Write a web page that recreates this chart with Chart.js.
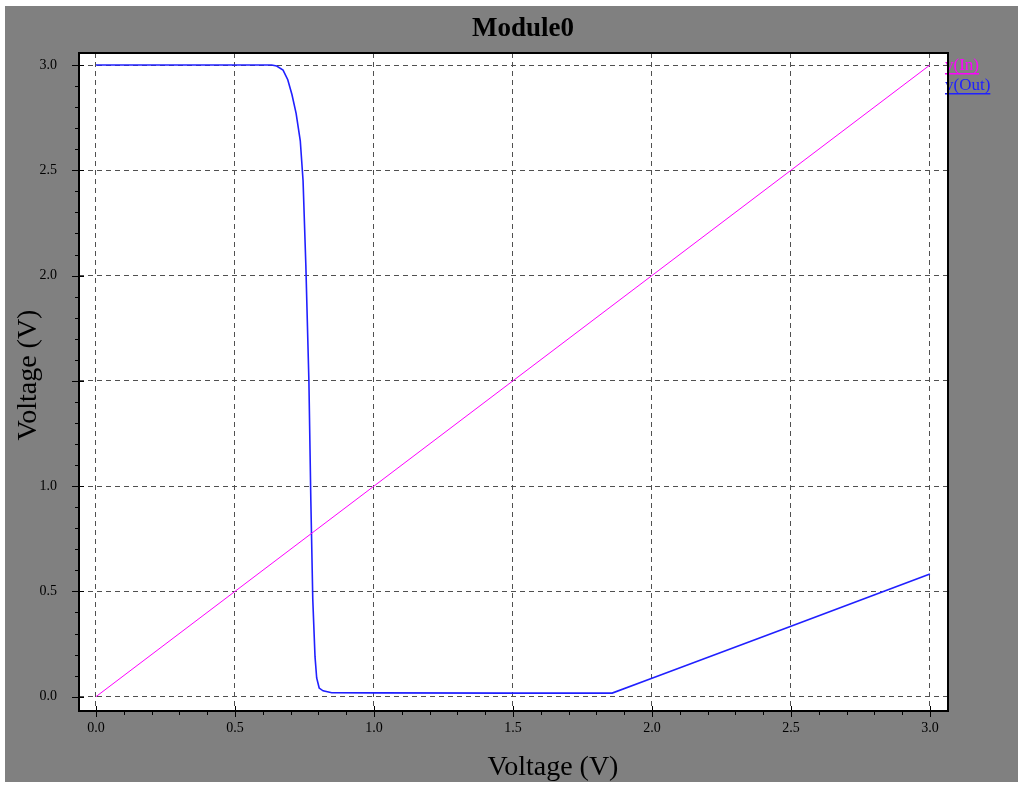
<!DOCTYPE html>
<html>
<head>
<meta charset="utf-8">
<script src="https://cdn.jsdelivr.net/npm/chart.js@4/dist/chart.umd.min.js"></script>
<style>
html,body{margin:0;padding:0;background:#fff;}
canvas{display:block;}
</style>
</head>
<body>
<canvas id="c" width="1021" height="785"></canvas>
<script>
// ---- data ----
const chartTitle = "Module0";
const xAxisTitle = "Voltage (V)";
const yAxisTitle = "Voltage (V)";
const xTickValues = [0.0, 0.5, 1.0, 1.5, 2.0, 2.5, 3.0];
const yTickValues = [0.0, 0.5, 1.0, 1.5, 2.0, 2.5, 3.0];
const xTickLabels = ["0.0", "0.5", "1.0", "1.5", "2.0", "2.5", "3.0"];
const yTickLabels = ["0.0", "0.5", "1.0", "1.5", "2.0", "2.5", "3.0"];
const seriesNames = ["v(In)", "v(Out)"];
const vinX = [0.0, 3.0];
const vinY = [0.0, 3.0];
const voutX = [0.0, 0.2, 0.4, 0.6, 0.632, 0.650, 0.673, 0.690, 0.705, 0.720, 0.735, 0.745, 0.755, 0.766, 0.773, 0.780, 0.788, 0.794, 0.803, 0.817, 0.848, 1.0, 1.5, 1.857, 2.0, 2.5, 3.0];
const voutY = [3.0, 3.0, 3.0, 3.0, 3.0, 2.995, 2.976, 2.93, 2.86, 2.77, 2.64, 2.45, 2.05, 1.5, 0.93, 0.46, 0.19, 0.089, 0.041, 0.028, 0.019, 0.018, 0.017, 0.017, 0.087, 0.335, 0.583];

const colIn = "#ff00ff";
const colOut = "#2020ff";

function pts(xs, ys){ return xs.map((x,i)=>({x:x, y:ys[i]})); }

const framePlugin = {
  id: 'frame',
  beforeDraw(chart){
    const ctx = chart.ctx, a = chart.chartArea;
    ctx.save();
    ctx.fillStyle = '#ffffff';
    ctx.fillRect(0,0,chart.width,chart.height);
    ctx.fillStyle = '#808080';
    ctx.fillRect(5,6,1013,776);
    ctx.fillStyle = '#ffffff';
    ctx.fillRect(a.left, a.top, a.right-a.left, a.bottom-a.top);
    ctx.restore();
  },
  afterDraw(chart){
    const ctx = chart.ctx, a = chart.chartArea;
    const xs = chart.scales.x, ys = chart.scales.y;
    ctx.save();
    // legend
    ctx.textAlign = 'left';
    ctx.textBaseline = 'alphabetic';
    ctx.font = '17px "Liberation Serif", serif';
    const leg = [[seriesNames[0], colIn, 70], [seriesNames[1], colOut, 90]];
    leg.forEach(([t,c,y])=>{
      ctx.fillStyle = c;
      ctx.fillText(t, 945, y);
      const w = ctx.measureText(t).width;
      ctx.fillRect(945, y+3, w, 1.5);
    });
    // border
    ctx.strokeStyle = '#000';
    ctx.lineWidth = 2;
    ctx.strokeRect(a.left, a.top, a.right-a.left, a.bottom-a.top);
    // ticks
    ctx.lineWidth = 1;
    ctx.strokeStyle = '#000';
    ctx.beginPath();
    for (let i=0;i<=30;i++){
      const v = i/10;
      const major = (i%5===0);
      const px = Math.round(xs.getPixelForValue(v))+0.5;
      ctx.moveTo(px, a.bottom + (major?6:4));
      ctx.lineTo(px, a.bottom - (major?5:0));
      const py = Math.round(ys.getPixelForValue(v))+0.5;
      ctx.moveTo(a.left - (major?7:4), py);
      ctx.lineTo(a.left + (major?5:0), py);
    }
    ctx.stroke();
    // title
    ctx.fillStyle = '#000';
    ctx.textAlign = 'center';
    ctx.font = 'bold 27px "Liberation Serif", serif';
    ctx.fillText(chartTitle, 523, 36);
    // x axis title
    ctx.font = '28px "Liberation Serif", serif';
    ctx.fillText(xAxisTitle, 553, 775);
    // y axis title (its box covers the tick label behind it, as in the original)
    const tw = ctx.measureText(yAxisTitle).width;
    ctx.fillStyle = '#808080';
    ctx.fillRect(8, 375 - tw/2 - 2, 62, tw + 4);
    ctx.fillStyle = '#000';
    ctx.save();
    ctx.translate(36, 375);
    ctx.rotate(-Math.PI/2);
    ctx.fillText(yAxisTitle, 0, 0);
    ctx.restore();
    ctx.restore();
  }
};

const gridOpts = { color: '#505050', lineWidth: 1, drawTicks: false };
const tickFont = { family: '"Liberation Serif", serif', size: 14 };

new Chart(document.getElementById('c'), {
  type: 'scatter',
  data: {
    datasets: [
      { label: seriesNames[0], data: pts(vinX, vinY), showLine: true, borderColor: colIn, borderWidth: 1, pointRadius: 0, tension: 0 },
      { label: seriesNames[1], data: pts(voutX, voutY), showLine: true, borderColor: colOut, borderWidth: 1.6, pointRadius: 0, tension: 0 }
    ]
  },
  options: {
    responsive: false,
    animation: false,
    devicePixelRatio: 1,
    layout: { padding: { left: 0, top: 53, right: 73, bottom: 0 } },
    plugins: { legend: { display: false }, title: { display: false }, tooltip: { enabled: false } },
    scales: {
      x: {
        type: 'linear', min: -0.061, max: 3.065,
        grid: gridOpts,
        border: { display: false, dash: [5,4] },
        ticks: { font: tickFont, color: '#000', padding: 9, maxRotation: 0,
          callback: (v)=>{ const i = xTickValues.indexOf(v); return i>=0 ? xTickLabels[i] : ''; } },
        afterBuildTicks: (s)=>{ s.ticks = xTickValues.map(v=>({value:v})); },
        afterFit: (s)=>{ s.height = 74; }
      },
      y: {
        type: 'linear', min: -0.068, max: 3.057,
        grid: gridOpts,
        border: { display: false, dash: [5,4] },
        ticks: { font: tickFont, color: '#000', padding: 22,
          callback: (v)=>{ const i = yTickValues.indexOf(v); return i>=0 ? yTickLabels[i] : ''; } },
        afterBuildTicks: (s)=>{ s.ticks = yTickValues.map(v=>({value:v})); },
        afterFit: (s)=>{ s.width = 79; }
      }
    }
  },
  plugins: [framePlugin]
});
</script>
</body>
</html>
